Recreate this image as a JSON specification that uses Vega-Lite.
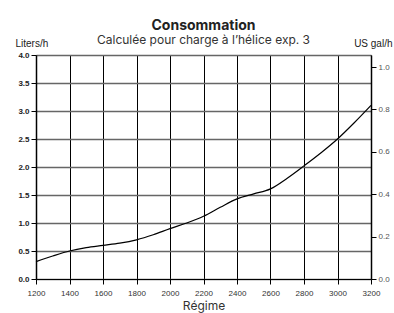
{
  "$schema": "https://vega.github.io/schema/vega-lite/v6.json",
  "width": 335,
  "height": 224,
  "autosize": {"type": "none"},
  "padding": {"left": 36, "top": 55, "right": 23, "bottom": 34},
  "background": "white",
  "title": {
    "text": "Consommation",
    "subtitle": "Calculée pour charge à l’hélice exp. 3",
    "font": "Inter",
    "fontSize": 14,
    "fontWeight": "bold",
    "color": "#222",
    "subtitleFont": "Inter",
    "subtitleFontSize": 12,
    "subtitleColor": "#333",
    "subtitlePadding": 2,
    "anchor": "middle",
    "offset": -8
  },
  "data": {
    "values": [
      {"rpm": 1200, "L": 0.31},
      {"rpm": 1300, "L": 0.41},
      {"rpm": 1400, "L": 0.5},
      {"rpm": 1500, "L": 0.56},
      {"rpm": 1600, "L": 0.6},
      {"rpm": 1700, "L": 0.64},
      {"rpm": 1800, "L": 0.7},
      {"rpm": 1900, "L": 0.79},
      {"rpm": 2000, "L": 0.9},
      {"rpm": 2100, "L": 1.0},
      {"rpm": 2200, "L": 1.12},
      {"rpm": 2300, "L": 1.28},
      {"rpm": 2400, "L": 1.43},
      {"rpm": 2500, "L": 1.52},
      {"rpm": 2600, "L": 1.61},
      {"rpm": 2700, "L": 1.8},
      {"rpm": 2800, "L": 2.02},
      {"rpm": 2900, "L": 2.25},
      {"rpm": 3000, "L": 2.5},
      {"rpm": 3100, "L": 2.79},
      {"rpm": 3200, "L": 3.1}
    ]
  },
  "config": {
    "view": {"stroke": null},
    "axis": {"labelFont": "Liberation Sans", "titleFont": "Liberation Sans"}
  },
  "encoding": {
    "x": {
      "field": "rpm", "type": "quantitative",
      "scale": {"domain": [1200, 3200], "nice": false, "zero": false},
      "axis": {
        "values": [1200, 1400, 1600, 1800, 2000, 2200, 2400, 2600, 2800, 3000, 3200],
        "format": "d",
        "labelOverlap": false,
        "title": "Régime", "titleFont": "Inter", "titleFontSize": 12, "titleFontWeight": "normal", "titleColor": "#333", "titlePadding": 3,
        "labelFontSize": 8, "labelColor": "#333", "labelPadding": 5, "labelBound": false, "labelFlush": false,
        "tickSize": 5, "tickColor": "#000", "domainColor": "#000",
        "grid": true, "gridColor": "#000", "gridWidth": 1, "gridOpacity": 1
      }
    }
  },
  "layer": [
    {
      "mark": {"type": "line", "color": "black", "strokeWidth": 1.2, "interpolate": "monotone"},
      "encoding": {
        "y": {
          "field": "L", "type": "quantitative",
          "scale": {"domain": [0, 4], "nice": false},
          "axis": {
            "values": [0, 0.5, 1, 1.5, 2, 2.5, 3, 3.5, 4],
            "format": ".1f",
            "labelOverlap": false,
            "title": "Liters/h", "titleAngle": 0, "titleFontSize": 10, "titleFontWeight": "normal", "titleColor": "#222",
            "titleX": -21, "titleY": -9, "titleAlign": "left", "titleBaseline": "alphabetic",
            "labelFontSize": 8, "labelFontWeight": "bold", "labelColor": "#222", "labelPadding": 2,
            "tickSize": 5, "tickColor": "#000", "domainColor": "#000", "domainWidth": 1.5,
            "grid": true, "gridColor": "#666", "gridWidth": 1.5, "gridOpacity": 1
          }
        }
      }
    },
    {
      "mark": {"type": "line", "opacity": 0},
      "encoding": {
        "y": {
          "field": "L", "type": "quantitative",
          "scale": {"domain": [0, 4], "nice": false},
          "axis": {
            "orient": "right",
            "values": [0, 0.757, 1.514, 2.271, 3.028, 3.785],
            "labelExpr": "format(datum.value / 3.785, '.1f')",
            "labelOverlap": false,
            "title": "US gal/h", "titleAngle": 0, "titleFontSize": 10, "titleFontWeight": "normal", "titleColor": "#222",
            "titleX": 21, "titleY": -9, "titleAlign": "right", "titleBaseline": "alphabetic",
            "labelFontSize": 8, "labelColor": "#555", "labelPadding": 2,
            "tickSize": 5, "tickColor": "#000", "domainColor": "#000", "domainWidth": 1.5,
            "grid": false
          }
        }
      }
    }
  ],
  "resolve": {"scale": {"y": "independent"}}
}
